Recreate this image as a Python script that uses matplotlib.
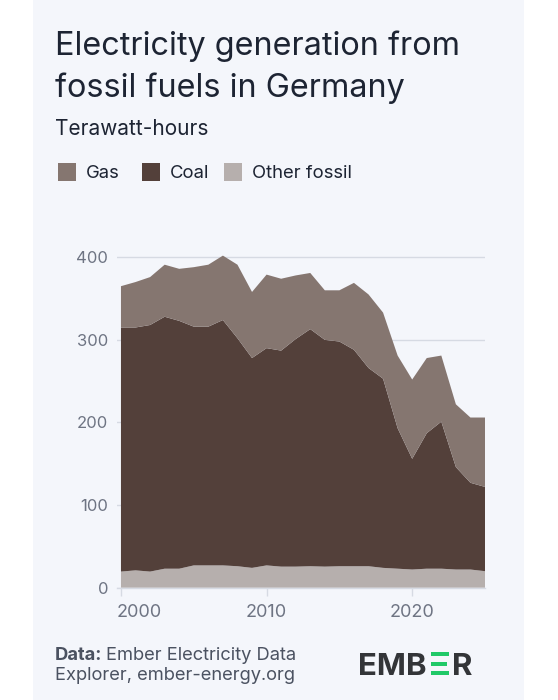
import matplotlib
matplotlib.use("Agg")
import matplotlib.pyplot as plt
from matplotlib.patches import Rectangle
from matplotlib.transforms import ScaledTranslation
import numpy as np

years = list(range(2000, 2026))
gas = [50, 55, 58, 63, 63, 72, 75, 78, 89, 80, 89, 87, 77, 68, 60, 62, 81, 89, 80, 88, 96, 91, 80, 76, 79, 84]
coal = [295.5, 294, 298.5, 305, 300, 289, 289, 297, 276, 254, 263, 261.5, 275.5, 287, 274.5, 272, 262, 240, 229, 170, 134, 164, 178, 124, 105, 102]
other = [19.5, 21, 19.5, 23, 23, 27, 27, 27, 26, 24, 27, 25.5, 25.5, 26, 25.5, 26, 26, 26, 24, 23, 22, 23, 23, 22, 22, 20]
series_names = ["Gas", "Coal", "Other fossil"]
colors = {"Gas": "#857670", "Coal": "#53403a", "Other fossil": "#b6afad"}
y_ticks = [0, 100, 200, 300, 400]
x_ticks = [2000, 2010, 2020]

FONT = "Inter"
plt.rcParams["font.family"] = [FONT, "DejaVu Sans"]

W, H = 558, 700
fig = plt.figure(figsize=(W / 100, H / 100), dpi=100)
fig.patch.set_facecolor("white")

def fx(px):
    return px / W

def fy(py):
    return 1 - py / H

# panel background
fig.patches.append(Rectangle((fx(33), 0), fx(524) - fx(33), 1, transform=fig.transFigure,
                             facecolor="#f4f6fb", edgecolor="none", zorder=-10))

# axes
x0, x1 = 116.6, 485
y_zero, y_top = 587.7, 249
ax = fig.add_axes([fx(x0), fy(y_zero), fx(x1) - fx(x0), (y_zero - y_top) / H])
ax.set_zorder(5)
ax.set_facecolor("none")
ax.stackplot(years, other, coal, gas,
             colors=[colors["Other fossil"], colors["Coal"], colors["Gas"]],
             linewidth=0, zorder=2)
ax.set_xlim(1999.7, 2025)
ax.set_ylim(0, 410)
ax.set_yticks(y_ticks)
ax.set_xticks(x_ticks)
ax.set_axisbelow(True)
ax.grid(axis="y", color="#d6dae3", linewidth=1)
for s in ["top", "right", "left"]:
    ax.spines[s].set_visible(False)
ax.spines["bottom"].set_color("#d6dae3")
ax.spines["bottom"].set_linewidth(1)
ax.spines["bottom"].set_zorder(3)
ax.tick_params(axis="y", length=0, pad=6, labelsize=12, labelcolor="#6e7483")
ax.tick_params(axis="x", length=6, width=1, color="#d6dae3", pad=6, labelsize=13, labelcolor="#6e7483")
first = ax.get_xticklabels()[0]
first.set_horizontalalignment("left")
first.set_transform(first.get_transform() + ScaledTranslation(-4 / 100, 0, fig.dpi_scale_trans))

# title
tcol = "#1d2433"
fig.text(fx(55), fy(55), "Electricity generation from", fontsize=23.3, color=tcol, va="baseline", ha="left")
fig.text(fx(55), fy(97), "fossil fuels in Germany", fontsize=23.3, color=tcol, va="baseline", ha="left")
fig.text(fx(55), fy(135), "Terawatt-hours", fontsize=15, color=tcol, va="baseline", ha="left")

# legend
leg_x = [58, 142, 224]
for name, lx in zip(series_names, leg_x):
    fig.patches.append(Rectangle((fx(lx), fy(181)), fx(18), 18 / H, transform=fig.transFigure,
                                 facecolor=colors[name], edgecolor="none"))
    fig.text(fx(lx + 28), fy(178), name, fontsize=13.3, color=tcol, va="baseline", ha="left")

# footer
fig.canvas.draw()
r = fig.canvas.get_renderer()
fcol = "#4b5261"
t1 = fig.text(fx(55), fy(660), "Data:", fontsize=13.2, fontweight="bold", color=fcol, va="baseline", ha="left")
bb = t1.get_window_extent(r)
fig.text(bb.x1 / W + fx(4), fy(660), "Ember Electricity Data", fontsize=13.2, color=fcol, va="baseline", ha="left")
fig.text(fx(55), fy(680), "Explorer, ember-energy.org", fontsize=13.2, color=fcol, va="baseline", ha="left")

# logo
lcol = "#333538"
e1 = fig.text(fx(358), fy(675), "EMB", fontsize=22.5, fontweight="bold", color=lcol, va="baseline", ha="left")
bb = e1.get_window_extent(r)
gx = bb.x1 + 4
bar_w, bar_h = 18, 4.2
for i, yy in enumerate([651.5, 661.5, 671]):
    w = bar_w if i != 1 else bar_w - 2
    fig.patches.append(Rectangle((gx / W, fy(yy + bar_h)), w / W, bar_h / H, transform=fig.transFigure,
                                 facecolor="#20c968", edgecolor="none"))
fig.text((gx + bar_w + 3) / W, fy(675), "R", fontsize=22.5, fontweight="bold", color=lcol, va="baseline", ha="left")

fig.savefig("out.png", dpi=100, facecolor=fig.get_facecolor())
